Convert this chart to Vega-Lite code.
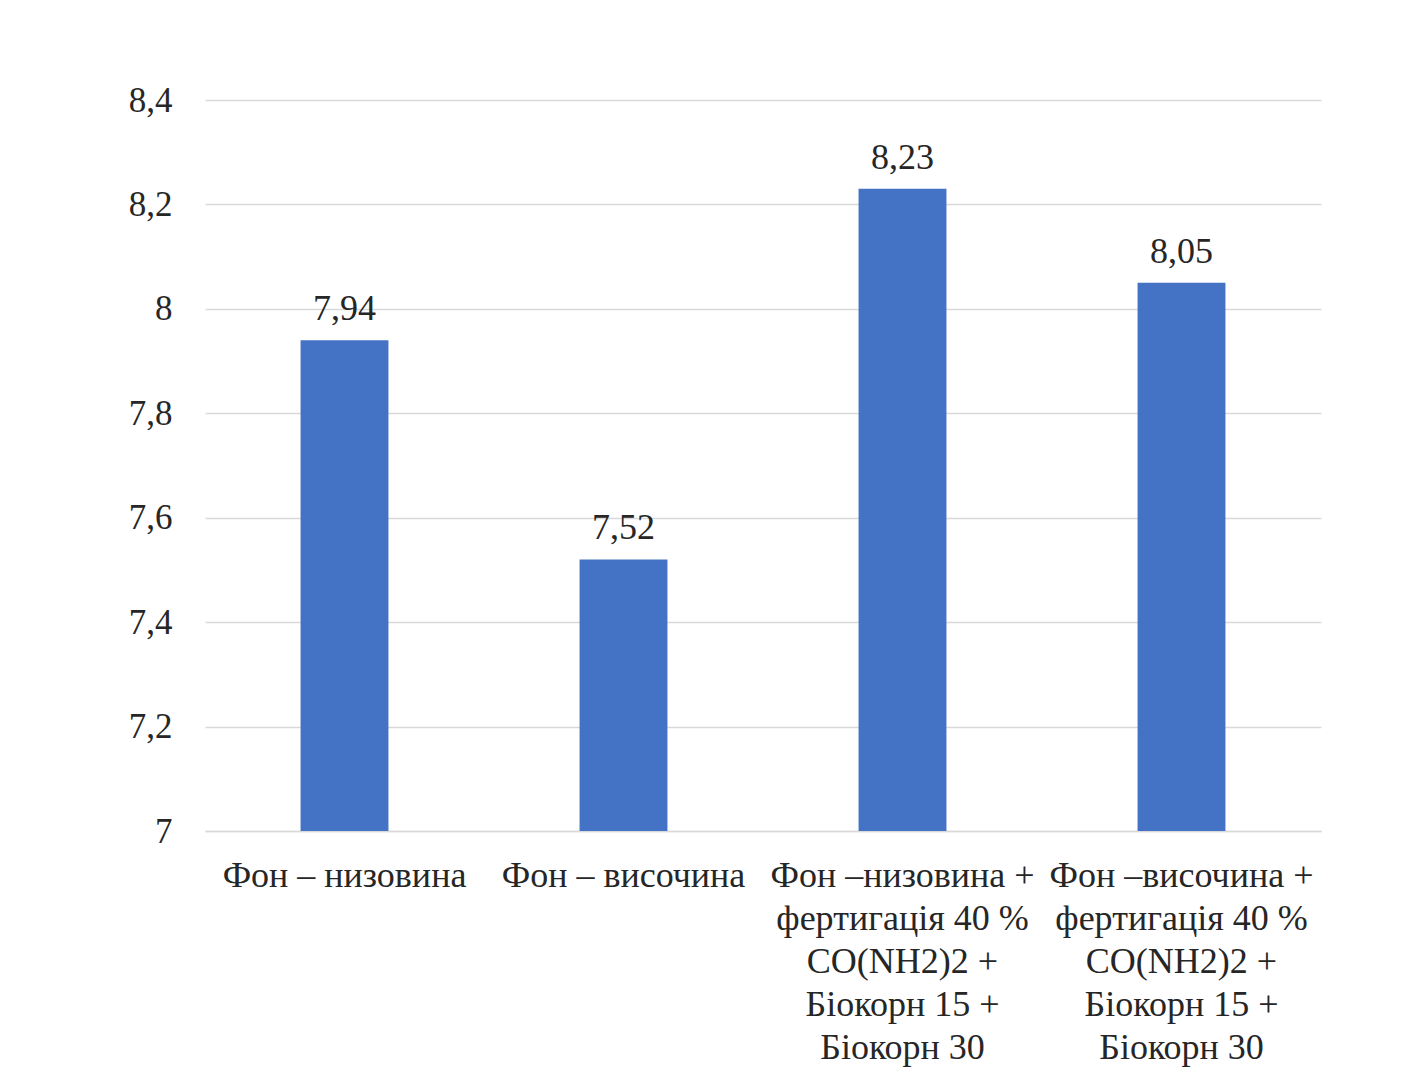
{
  "$schema": "https://vega.github.io/schema/vega-lite/v6.json",
  "autosize": {"type": "none"},
  "padding": {"left": 205, "top": 100, "right": 82, "bottom": 249},
  "width": 1116,
  "height": 731,
  "background": "white",
  "config": {
    "locale": {"number": {"decimal": ",", "thousands": " ", "grouping": [3], "currency": ["", ""]}},
    "view": {"stroke": null},
    "font": "Liberation Serif"
  },
  "data": {
    "values": [
      {"variant": "Фон – низовина", "value": 7.94},
      {"variant": "Фон – височина", "value": 7.52},
      {"variant": "Фон –низовина +|фертигація 40 %|CO(NH2)2 +|Біокорн 15 +|Біокорн 30", "value": 8.23},
      {"variant": "Фон –височина +|фертигація 40 %|CO(NH2)2 +|Біокорн 15 +|Біокорн 30", "value": 8.05}
    ]
  },
  "encoding": {
    "x": {
      "field": "variant",
      "type": "nominal",
      "sort": null,
      "scale": {"paddingInner": 0.685, "paddingOuter": 0.3425},
      "axis": {
        "title": null,
        "labelAngle": 0,
        "labelExpr": "split(datum.label, '|')",
        "labelFont": "Liberation Serif",
        "labelFontSize": 36,
        "labelColor": "#262626",
        "labelLineHeight": 43,
        "labelBaseline": "top",
        "labelPadding": 27,
        "labelLimit": 400,
        "labelOverlap": false,
        "ticks": false,
        "domainColor": "#d9d9d9",
        "domainWidth": 1.5
      }
    },
    "y": {
      "field": "value",
      "type": "quantitative",
      "scale": {"domain": [7, 8.4], "zero": false, "nice": false},
      "axis": {
        "title": null,
        "values": [7, 7.2, 7.4, 7.6, 7.8, 8, 8.2, 8.4],
        "format": ".1~f",
        "labelFont": "Liberation Serif",
        "labelFontSize": 35,
        "labelColor": "#262626",
        "labelPadding": 33,
        "ticks": false,
        "domain": false,
        "gridColor": "#d9d9d9",
        "gridWidth": 1.5
      }
    }
  },
  "layer": [
    {"mark": {"type": "bar", "color": "#4472C4", "clip": true}},
    {
      "mark": {"type": "text", "baseline": "alphabetic", "dy": -20, "font": "Liberation Serif", "fontSize": 36, "color": "#262626"},
      "encoding": {"text": {"field": "value", "type": "quantitative", "format": ".2f"}}
    }
  ]
}
